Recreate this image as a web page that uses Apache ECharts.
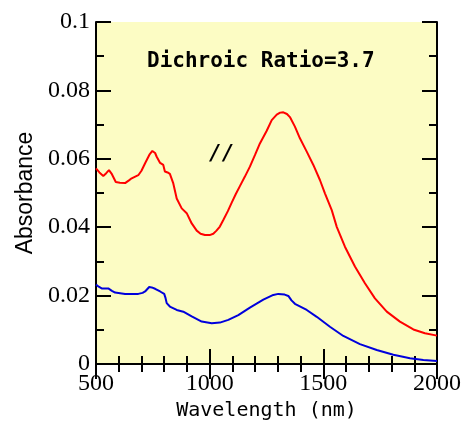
<!DOCTYPE html>
<html><head><meta charset="utf-8">
<script src="https://cdn.jsdelivr.net/npm/echarts@6/dist/echarts.min.js"></script>
<style>html,body{margin:0;padding:0;background:#fff}#c{width:473px;height:421px}</style>
</head><body><div id="c"></div>
<script>
var redX = [500,515,532,545,557,570,587,605,628,645,657,686,700,716,735,748,760,767,782,796,803,815,825,840,855,877,899,921,943,960,979,1000,1016,1030,1045,1060,1080,1097,1115,1133,1155,1177,1200,1221,1251,1273,1295,1310,1324,1340,1353,1375,1397,1427,1456,1485,1507,1537,1559,1595,1639,1683,1727,1779,1837,1896,1947,2000];
var redY = [0.0572,0.0560,0.0550,0.0558,0.0567,0.0555,0.0532,0.0530,0.0529,0.0537,0.0543,0.0552,0.0565,0.0587,0.0612,0.0623,0.0617,0.0606,0.0588,0.0582,0.0563,0.0560,0.0556,0.0528,0.0484,0.0455,0.0441,0.0411,0.0390,0.0381,0.0377,0.0377,0.0381,0.0390,0.0402,0.0421,0.0447,0.0472,0.0497,0.0520,0.0548,0.0577,0.0612,0.0645,0.0682,0.0713,0.0729,0.0735,0.0736,0.0731,0.0722,0.0694,0.0660,0.0621,0.0582,0.0538,0.0499,0.0450,0.0401,0.0343,0.0285,0.0236,0.0192,0.0153,0.0124,0.0101,0.0090,0.0083];
var blueX = [500,512,525,554,570,584,628,686,705,716,734,745,760,782,800,805,811,825,855,884,921,965,1009,1045,1082,1126,1177,1236,1280,1302,1330,1346,1360,1375,1427,1471,1529,1588,1661,1735,1808,1881,1940,2000];
var blueY = [0.0232,0.0226,0.0221,0.0221,0.0214,0.0209,0.0205,0.0205,0.0208,0.0212,0.0225,0.0224,0.0220,0.0212,0.0205,0.0195,0.0178,0.0168,0.0158,0.0153,0.0139,0.0124,0.0119,0.0121,0.0129,0.0143,0.0165,0.0188,0.0202,0.0205,0.0203,0.0199,0.0186,0.0176,0.0158,0.0138,0.0109,0.0082,0.0058,0.0041,0.0027,0.0017,0.0012,0.0009];
var annotationText = "Dichroic Ratio=3.7";
var polText = "//";

function pairs(xs, ys){ return xs.map(function(x,i){return [x, ys[i]];}); }

var chart = echarts.init(document.getElementById('c'), null, {renderer:'canvas'});
var axisLine = {show:true, lineStyle:{color:'#000', width:2}};
var tick = {show:true, inside:true, length:15, lineStyle:{color:'#000', width:2}};
var mtickX = {show:true, splitNumber:5, length:8, lineStyle:{color:'#000', width:2}};
var mtickY = {show:true, splitNumber:2, length:8, lineStyle:{color:'#000', width:2}};
var labelFont = {fontFamily:'Liberation Serif', fontSize:24, color:'#000'};
chart.setOption({
  animation:false,
  backgroundColor:'#fff',
  grid:{left:96, top:22, width:341, height:342, show:true, backgroundColor:'#FCFCC4', borderWidth:0, outerBoundsMode:'none', containLabel:false},
  xAxis:[
    {type:'value', min:500, max:2000, interval:500, position:'bottom',
     axisLine:axisLine, axisTick:tick, minorTick:mtickX, splitLine:{show:false},
     axisLabel:Object.assign({margin:8, formatter:function(v){return String(v);}}, labelFont),
     name:'Wavelength (nm)', nameLocation:'middle', nameGap:37,
     nameTextStyle:{fontFamily:'DejaVu Sans Mono', fontSize:20, color:'#000'}},
    {type:'value', min:500, max:2000, interval:500, position:'top',
     axisLine:axisLine, axisTick:tick, minorTick:mtickX, splitLine:{show:false}, axisLabel:{show:false}}
  ],
  yAxis:[
    {type:'value', min:0, max:0.1, interval:0.02, position:'left',
     axisLine:axisLine, axisTick:tick, minorTick:mtickY, splitLine:{show:false},
     axisLabel:Object.assign({margin:6}, labelFont),
     name:'Absorbance', nameLocation:'middle', nameGap:59,
     nameTextStyle:{fontFamily:'Liberation Sans', fontSize:23, color:'#000'}},
    {type:'value', min:0, max:0.1, interval:0.02, position:'right',
     axisLine:axisLine, axisTick:tick, minorTick:mtickY, splitLine:{show:false}, axisLabel:{show:false}}
  ],
  series:[
    {type:'line', data:pairs(redX, redY), showSymbol:false, symbol:'none', lineStyle:{color:'#FF0000', width:2}, z:3},
    {type:'line', data:pairs(blueX, blueY), showSymbol:false, symbol:'none', lineStyle:{color:'#0000DC', width:2}, z:3}
  ],
  graphic:[
    {type:'text', left:147, top:51, style:{text:annotationText, font:'bold 21px "DejaVu Sans Mono"', fill:'#000'}, z:10},
    {type:'text', left:209, top:144, style:{text:polText, font:'italic bold 21px "DejaVu Sans Mono"', fill:'#000'}, z:10}
  ]
});
</script></body></html>
